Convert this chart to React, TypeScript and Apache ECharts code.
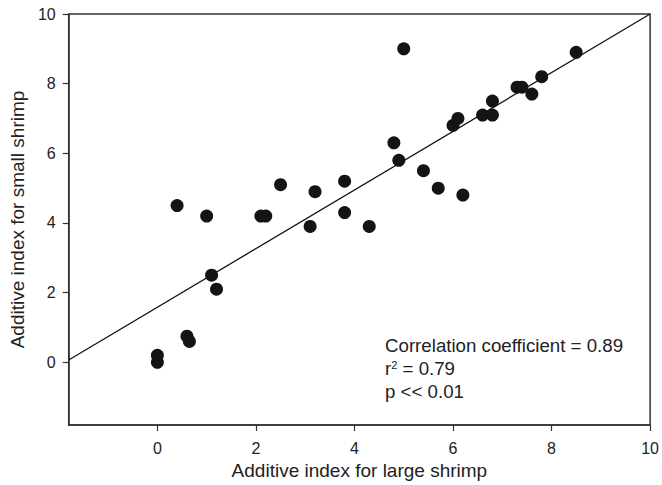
import React, { useEffect, useRef } from "react";
import * as echarts from "echarts";

const largeShrimp = [0, 0, 0.6, 0.65, 1.1, 1.2, 0.4, 1.0, 2.1, 2.2, 2.5, 3.1, 3.2, 3.8, 3.8, 4.3, 4.8, 4.9, 5.0, 5.4, 5.7, 6.0, 6.1, 6.2, 6.6, 6.8, 6.8, 7.3, 7.4, 7.6, 7.8, 8.5];
const smallShrimp = [0.2, 0, 0.75, 0.6, 2.5, 2.1, 4.5, 4.2, 4.2, 4.2, 5.1, 3.9, 4.9, 5.2, 4.3, 3.9, 6.3, 5.8, 9.0, 5.5, 5.0, 6.8, 7.0, 4.8, 7.1, 7.5, 7.1, 7.9, 7.9, 7.7, 8.2, 8.9];
const tickValues = [0, 2, 4, 6, 8, 10];
const fitIntercept = 1.58;
const fitSlope = 0.842;
const axisMin = -1.8;
const axisMax = 10;
const statLines = ["Correlation coefficient = 0.89", "r{sup|2} = 0.79", "p << 0.01"];

const FONT = "'Liberation Sans', Arial, Helvetica, sans-serif";

export default function App() {
  const ref = useRef<HTMLDivElement>(null);
  useEffect(() => {
    if (!ref.current) return;
    const chart = echarts.init(ref.current, undefined, { renderer: "svg" });
    const points = largeShrimp.map((x, i) => [x, smallShrimp[i]]);
    const fitLine = [
      [axisMin, fitIntercept + fitSlope * axisMin],
      [axisMax, fitIntercept + fitSlope * axisMax],
    ];
    const axisCommon = {
      type: "value" as const,
      min: axisMin,
      max: axisMax,
      splitLine: { show: false },
      axisLine: { show: true, onZero: false, lineStyle: { color: "#333", width: 1.5 } },
      axisTick: { show: true, customValues: tickValues, length: 6, inside: false, lineStyle: { color: "#333", width: 1.2 } },
      axisLabel: { customValues: tickValues, color: "#222", fontSize: 16, fontFamily: FONT },
      nameLocation: "middle" as const,
      nameTextStyle: { color: "#222", fontSize: 19, fontFamily: FONT },
    };
    chart.setOption({
      animation: false,
      backgroundColor: "#fff",
      grid: { left: 64, top: 14, right: 7, bottom: 58, show: true, borderColor: "#333", borderWidth: 1.5, containLabel: false },
      xAxis: { ...axisCommon, name: "Additive index for large shrimp", nameGap: 36, axisLabel: { ...axisCommon.axisLabel, margin: 15 } },
      yAxis: { ...axisCommon, name: "Additive index for small shrimp", nameGap: 35, axisLabel: { ...axisCommon.axisLabel, margin: 13 } },
      series: [
        {
          type: "line",
          data: fitLine,
          showSymbol: false,
          symbol: "none",
          lineStyle: { color: "#111", width: 1.3 },
          silent: true,
          z: 2,
        },
        {
          type: "scatter",
          data: points,
          symbol: "circle",
          symbolSize: 13,
          itemStyle: { color: "#141414", opacity: 1 },
          z: 3,
        },
      ],
      graphic: statLines.map((t, i) => ({
        type: "text",
        left: 385,
        top: 336 + i * 23,
        style: {
          text: t,
          fill: "#222",
          fontSize: 18.7,
          fontFamily: FONT,
          rich: {
            sup: { fontSize: 11, verticalAlign: "top", padding: [0, 0, 8, 0], fill: "#222", fontFamily: FONT },
          },
        },
      })),
    });
    return () => chart.dispose();
  }, []);
  return <div ref={ref} style={{ position: "fixed", left: 0, top: 0, width: 662, height: 485 }} />;
}
